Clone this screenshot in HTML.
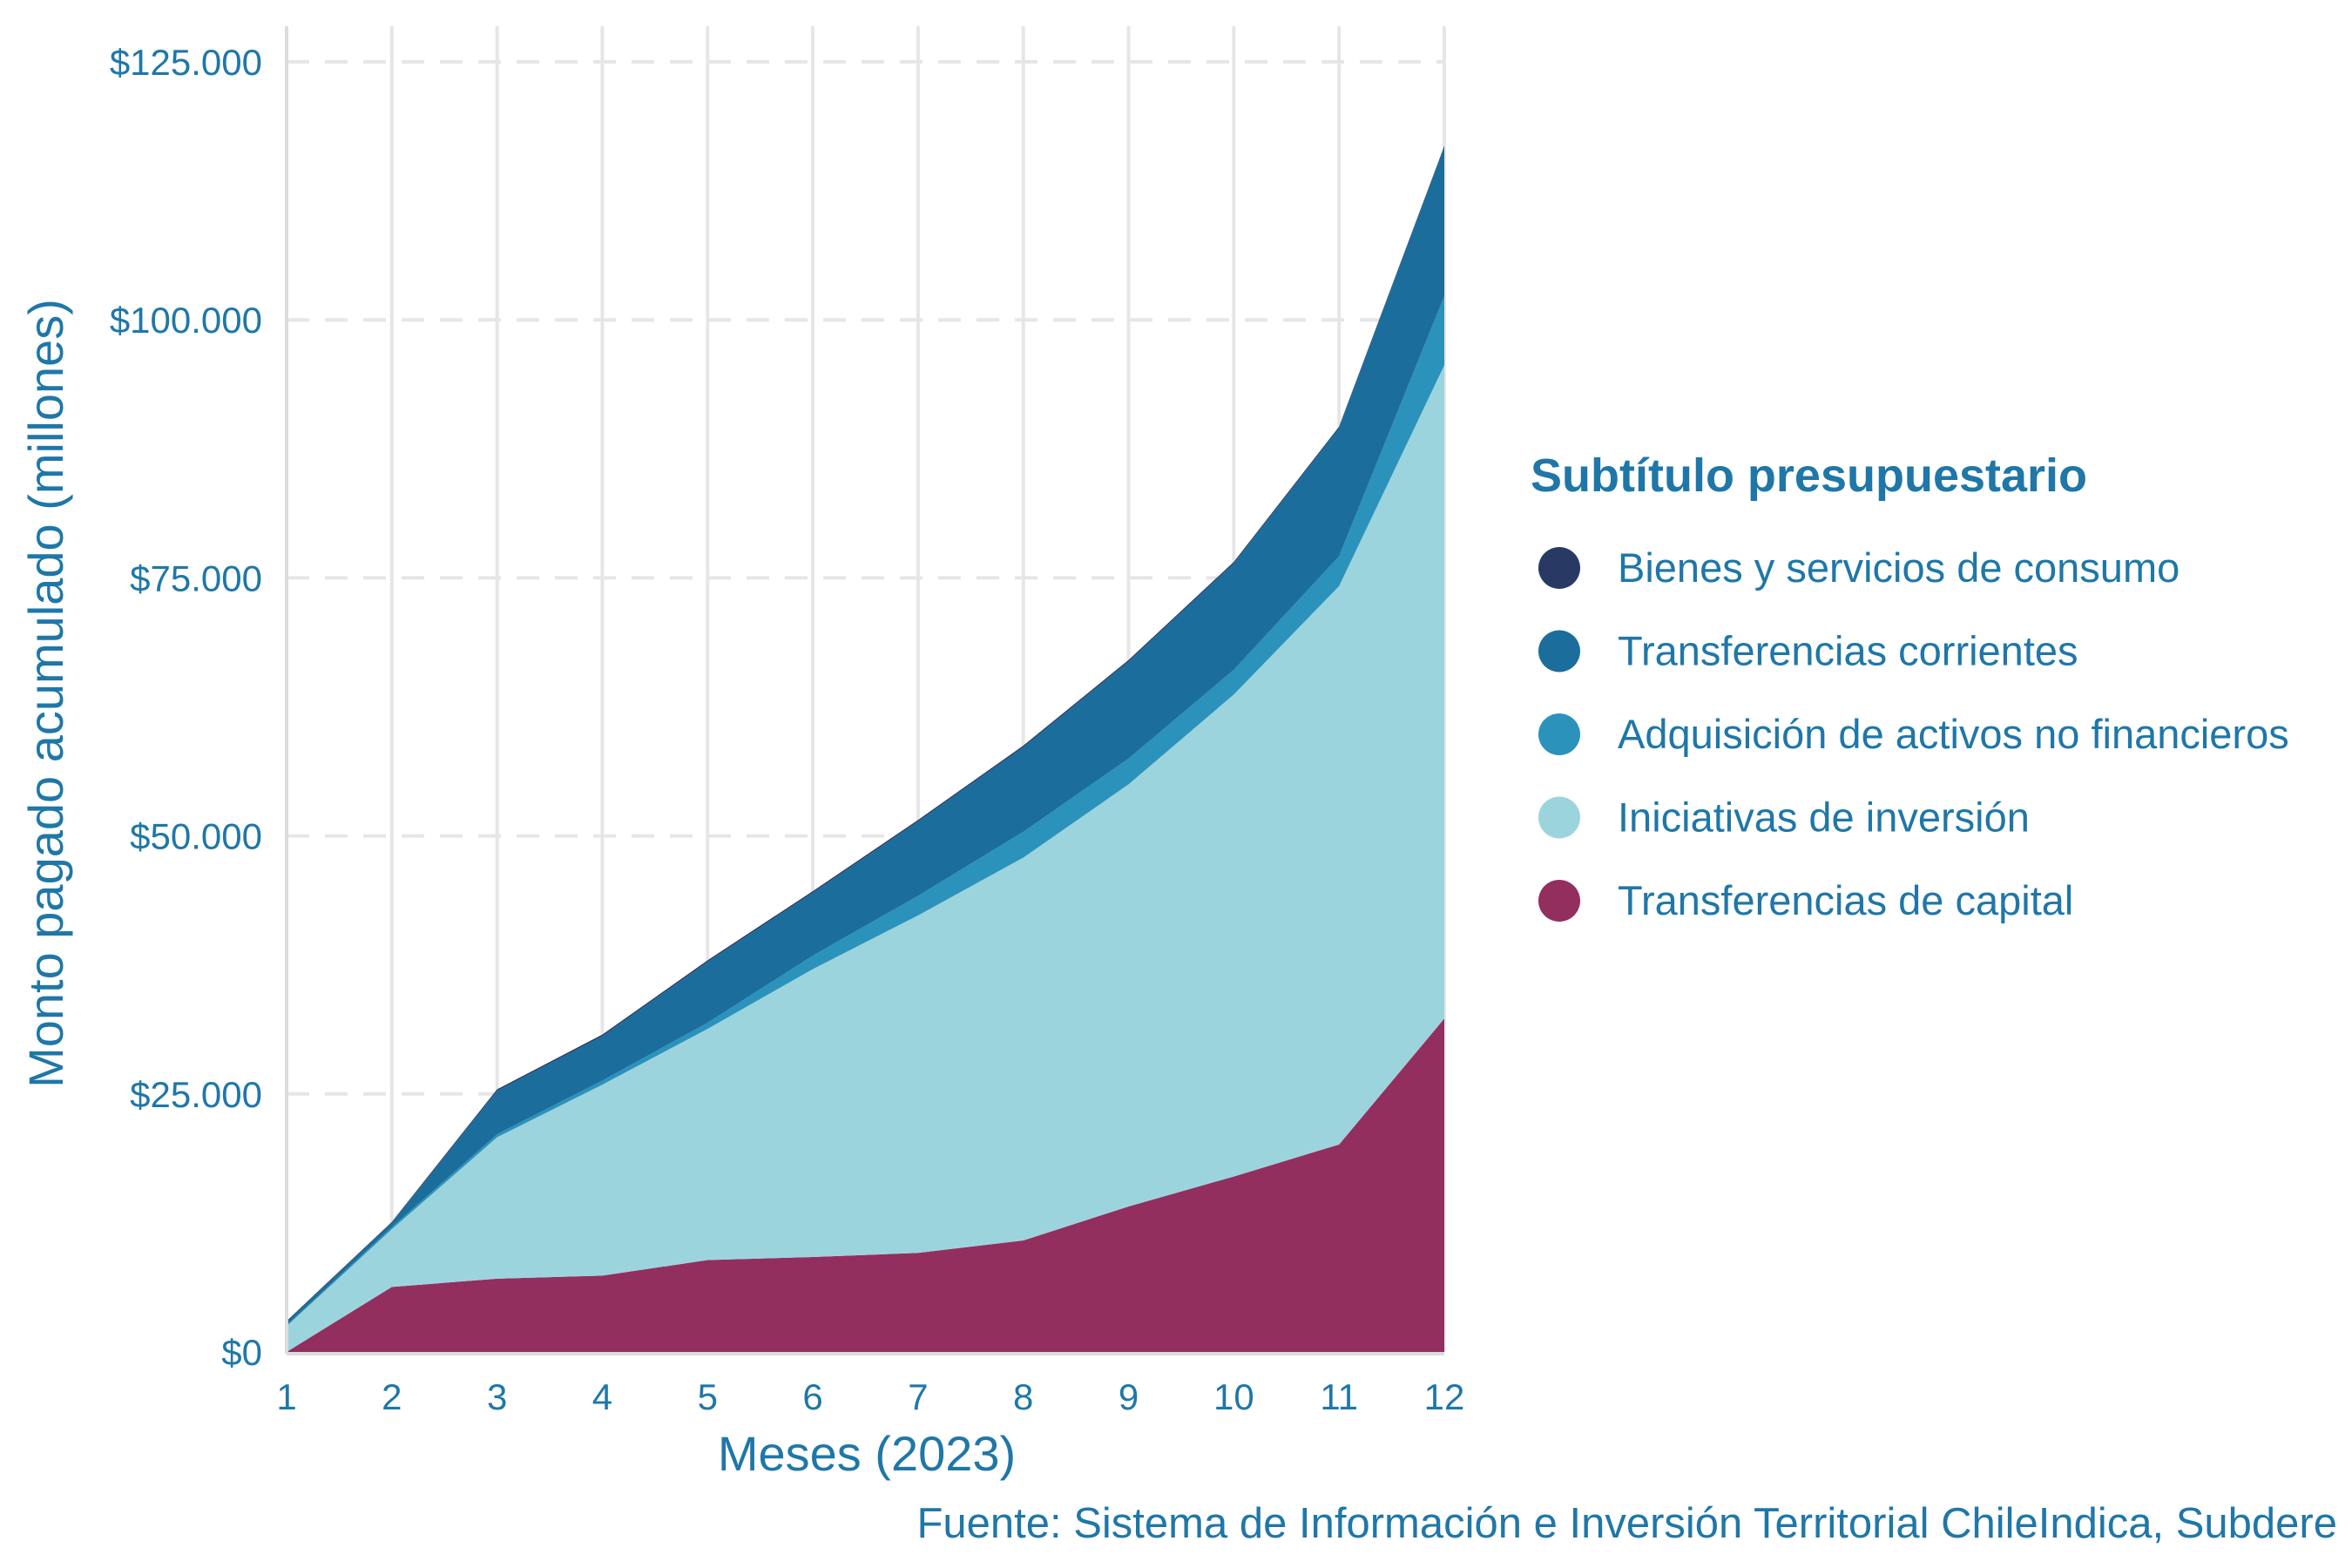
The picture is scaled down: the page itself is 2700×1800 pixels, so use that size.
<!DOCTYPE html>
<html><head><meta charset="utf-8"><style>
html,body{margin:0;padding:0;background:#fff;width:2700px;height:1800px;overflow:hidden}
svg text{font-family:"Liberation Sans",sans-serif;fill:#1f77a8}
</style></head><body>
<svg id="chart" width="2700" height="1800" xmlns="http://www.w3.org/2000/svg">
<g id="grid"></g>
<g id="areas"></g>
<g id="axes"></g>
<text x="0" y="0" transform="translate(72,796) rotate(-90)" text-anchor="middle" font-size="56">Monto pagado acumulado (millones)</text>
<text x="995" y="1688" text-anchor="middle" font-size="56">Meses (2023)</text>
<text x="2683" y="1765" text-anchor="end" font-size="49">Fuente: Sistema de Información e Inversión Territorial ChileIndica, Subdere</text>
<g id="legend">
<text x="1757" y="564" font-size="54" font-weight="bold">Subtítulo presupuestario</text>
</g>
</svg>
<script>
const months = [1,2,3,4,5,6,7,8,9,10,11,12];
const seriesNames = ["Transferencias de capital","Iniciativas de inversión","Adquisición de activos no financieros","Transferencias corrientes","Bienes y servicios de consumo"];
const capital = [0,6300,7100,7400,8900,9200,9600,10800,14100,17000,20100,32300];
const iniciativas = [2500,5600,13700,18500,22400,27900,32700,37100,40900,46700,54100,63300];
const adquisicion = [100,200,300,400,600,1300,1900,2500,2500,2400,2900,6700];
const corrientes = [300,400,4200,4300,5900,6100,7200,8200,9400,10300,12400,14400];
const bienes = [100,100,150,150,150,150,150,150,150,150,150,150];
const yTicks = [0,25000,50000,75000,100000,125000];
const yTickLabels = ["$0","$25.000","$50.000","$75.000","$100.000","$125.000"];
const colors = ["#922f5f","#9cd4de","#2b92bc","#1b6d9c","#283a64"];
const legendOrder = [4,3,2,1,0];

const NS="http://www.w3.org/2000/svg";
const X0=329,X1=1658,Y0=1552,Y1=71;
const xs=m=>X0+(m-1)/(11)*(X1-X0);
const ys=v=>Y0-v/125000*(Y0-Y1);
function mk(t,a,p){const e=document.createElementNS(NS,t);for(const k in a)e.setAttribute(k,a[k]);p.appendChild(e);return e;}
const grid=document.getElementById('grid'),areas=document.getElementById('areas'),axes=document.getElementById('axes'),legend=document.getElementById('legend');
yTicks.forEach((v,i)=>{
  const l=mk('line',{x1:X0,x2:X1,y1:ys(v),y2:ys(v),stroke:'#e6e6e6','stroke-width':4,'stroke-dasharray':'26,18'},grid);
  
  
  const t=mk('text',{x:X0-28,y:ys(v)+15,'text-anchor':'end','font-size':42},axes);
  t.textContent=yTickLabels[i];
  
  
});
months.forEach(m=>{
  const l=mk('line',{x1:xs(m),x2:xs(m),y1:30,y2:Y0,stroke:'#e6e6e6','stroke-width':4},grid);
  
  
  const t=mk('text',{x:xs(m),y:1618,'text-anchor':'middle','font-size':42},axes);
  t.textContent=m;
  
  
});
const data=[capital,iniciativas,adquisicion,corrientes,bienes];
let base=months.map(()=>0);
data.forEach((s,si)=>{
  const top=base.map((b,i)=>b+s[i]);
  let d='M'+months.map((m,i)=>xs(m)+','+ys(top[i])).join(' L');
  for(let i=months.length-1;i>=0;i--)d+=' L'+xs(months[i])+','+ys(base[i]);
  d+='Z';
  const p=mk('path',{d:d,fill:colors[si]},areas);
  
  
  base=top;
});
const ax=mk('line',{x1:X0,x2:X0,y1:30,y2:Y0+2,stroke:'#dcdcdc','stroke-width':4},axes);


const bx=mk('line',{x1:X0,x2:X1,y1:Y0+2,y2:Y0+2,stroke:'#dcdcdc','stroke-width':4},axes);


legendOrder.forEach((si,k)=>{
  const y=652+k*95.5;
  const c=mk('circle',{cx:1790,cy:y,r:24,fill:colors[si]},legend);
  
  
  const t=mk('text',{x:1857,y:y+16,'font-size':47},legend);
  t.textContent=seriesNames[si];
  
  
});
</script>
</body></html>
